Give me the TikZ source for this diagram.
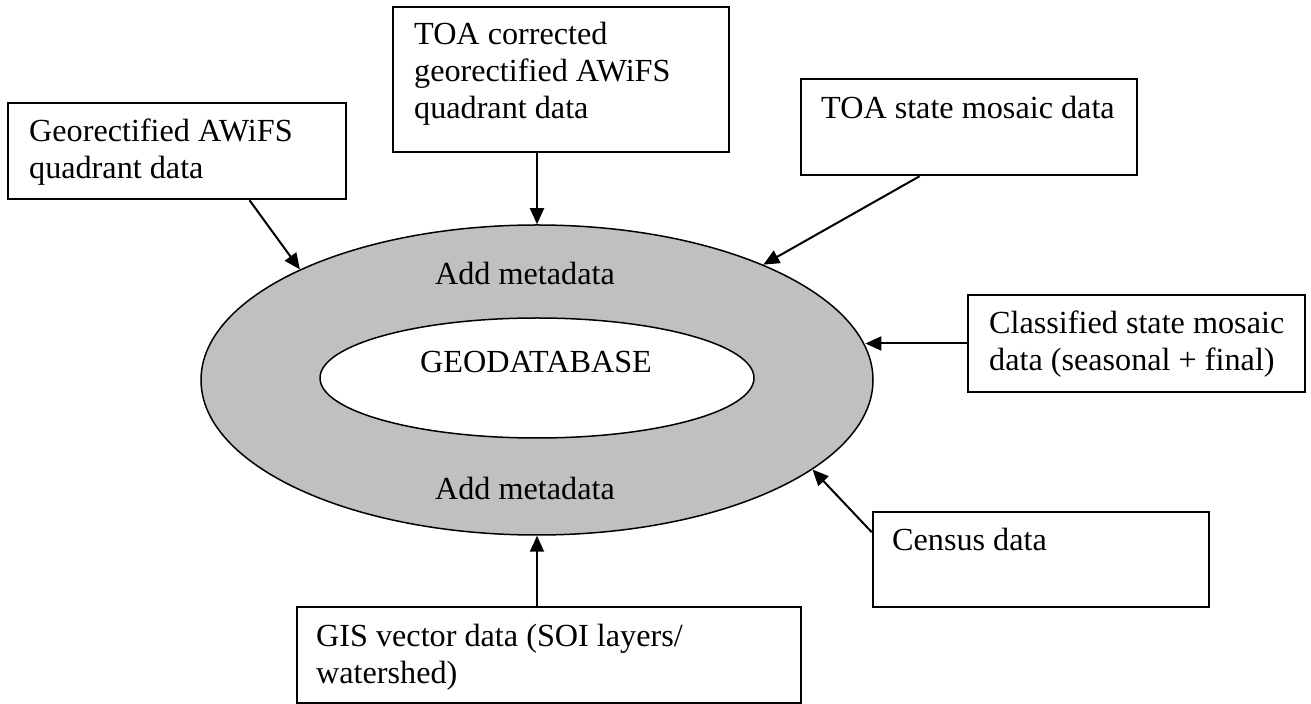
\documentclass[tikz,border=0pt]{standalone}
\usepackage{fontspec}
\setmainfont{Liberation Serif}
\usetikzlibrary{shapes.geometric,arrows.meta,fit,calc}
\tikzset{
  src/.style={draw,line width=1.25pt,inner sep=0pt},
  txt/.style={anchor=base west,inner sep=0pt,align=left},
  feed/.style={line width=1pt,-{Triangle[length=8pt,width=7pt]}},
}

\begin{document}
\begin{tikzpicture}[x=0.5pt,y=-0.5pt,font=\fontsize{16.1}{18.5}\selectfont]
  \useasboundingbox (0,0) rectangle (1311,704);
  % the ring and its core
  \node[ellipse,draw,line width=0.75pt,fill={rgb,255:red,192;green,192;blue,192},inner sep=0pt,minimum width=336pt,minimum height=155pt] (ring) at (537,380) {};
  \node[ellipse,draw,line width=0.75pt,fill=white,inner sep=0pt,minimum width=217pt,minimum height=60pt] (core) at (537,378) {};
  \node[anchor=base,inner sep=0pt] (gdb) at (536,373) {GEODATABASE};
  \node[anchor=base,inner sep=0pt] (meta1) at (525,285) {Add metadata};
  \node[anchor=base,inner sep=0pt] (meta2) at (525,500) {Add metadata};

  % source boxes
  \node[src,fit={(8,103) (346,199)}] (geo) {};
  \node[src,fit={(393,7) (729,152)}] (toa) {};
  \node[src,fit={(801,79) (1137,175)}] (mos) {};
  \node[src,fit={(968,295) (1305,392)}] (cls) {};
  \node[src,fit={(873,512) (1209,607)}] (cen) {};
  \node[src,fit={(297,607) (801,703)}] (gis) {};

  % text sits on the baseline of its last line
  \node[txt] (geotxt) at ($(geo.north west)+(22,77)$) {Georectified AWiFS\\quadrant data};
  \node[txt] (toatxt) at ($(toa.north west)+(22,113)$) {TOA corrected\\georectified AWiFS\\quadrant data};
  \node[txt] (mostxt) at ($(mos.north west)+(21,41)$) {TOA state mosaic data};
  \node[txt] (clstxt) at ($(cls.north west)+(22,77)$) {Classified state mosaic\\data (seasonal + final)};
  \node[txt] (centxt) at ($(cen.north west)+(20,40)$) {Census data};
  \node[txt] (gistxt) at ($(gis.north west)+(20,78)$) {GIS vector data (SOI layers/\\watershed)};

  % feeds into the ring
  \draw[feed] ($(geo.south west)!0.713!(geo.south east)$) -- (ring.155);
  \draw[feed] (ring.north |- toa.south) -- (ring.north);
  \draw[feed] ($(mos.south west)!0.354!(mos.south east)$) -- (ring.27);
  \draw[feed] (cls.west) -- (cls.west -| ring.6);
  \draw[feed] ($(cen.north west)!0.22!(cen.south west)$) -- (ring.-18);
  \draw[feed] (ring.south |- gis.north) -- (ring.south);
\end{tikzpicture}
\end{document}
